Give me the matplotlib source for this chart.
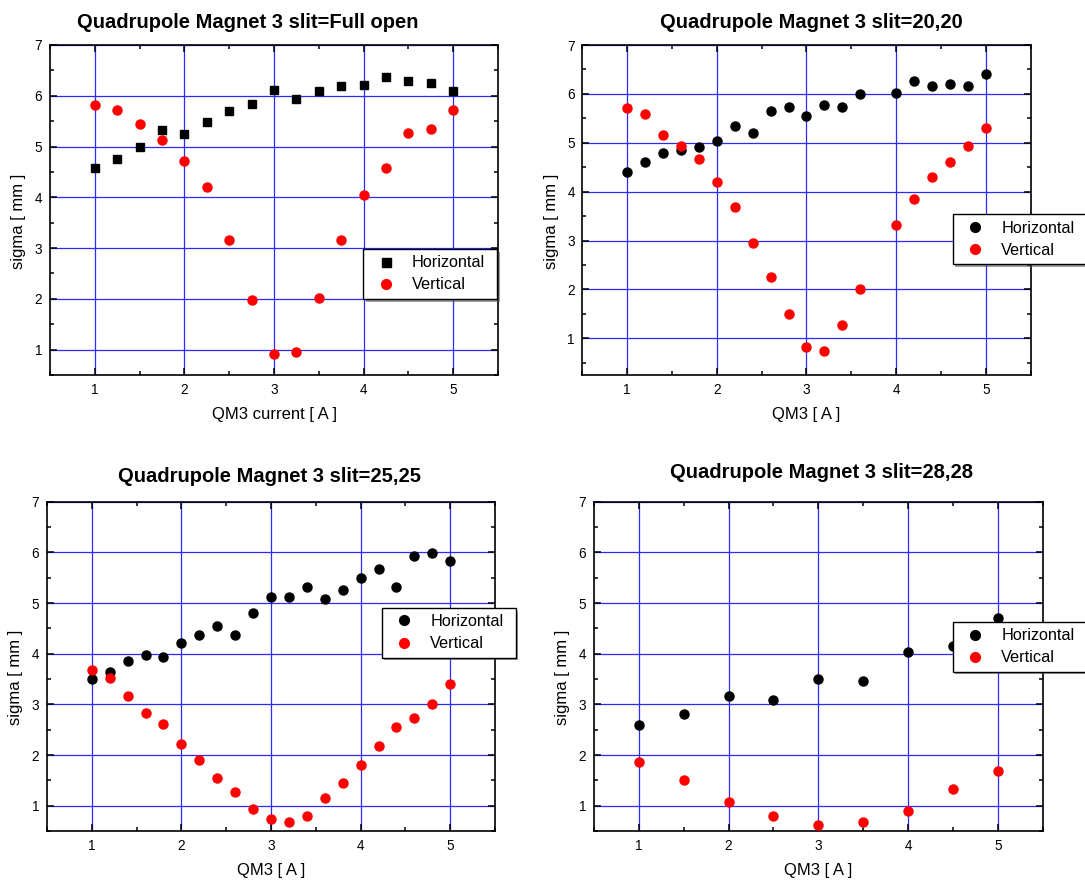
import matplotlib
matplotlib.use("Agg")
import matplotlib.pyplot as plt
from matplotlib.ticker import MultipleLocator

plt.rcParams['font.family'] = ['Liberation Sans', 'DejaVu Sans']

# ---------------- data ----------------
titles = ["Quadrupole Magnet 3 slit=Full open",
          "Quadrupole Magnet 3 slit=20,20",
          "Quadrupole Magnet 3 slit=25,25",
          "Quadrupole Magnet 3 slit=28,28"]
xlabels = ["QM3 current [ A ]", "QM3 [ A ]", "QM3 [ A ]", "QM3 [ A ]"]
ylabel = "sigma [ mm ]"
series_names = ["Horizontal", "Vertical"]

x_full = [1.0, 1.25, 1.5, 1.75, 2.0, 2.25, 2.5, 2.75, 3.0, 3.25, 3.5, 3.75,
          4.0, 4.25, 4.5, 4.75, 5.0]
h_full = [4.57, 4.75, 4.99, 5.33, 5.24, 5.49, 5.70, 5.83, 6.11, 5.93, 6.10,
          6.19, 6.21, 6.36, 6.30, 6.25, 6.09]
v_full = [5.81, 5.72, 5.45, 5.13, 4.71, 4.21, 3.15, 1.98, 0.92, 0.95, 2.02,
          3.16, 4.04, 4.57, 5.26, 5.35, 5.72]

x_2020 = [1.0, 1.2, 1.4, 1.6, 1.8, 2.0, 2.2, 2.4, 2.6, 2.8, 3.0, 3.2, 3.4,
          3.6, 4.0, 4.2, 4.4, 4.6, 4.8, 5.0]
h_2020 = [4.41, 4.60, 4.80, 4.85, 4.91, 5.03, 5.34, 5.20, 5.66, 5.73, 5.55,
          5.77, 5.74, 5.99, 6.01, 6.26, 6.16, 6.20, 6.17, 6.40]
v_2020 = [5.72, 5.58, 5.15, 4.94, 4.66, 4.20, 3.69, 2.94, 2.26, 1.50, 0.82,
          0.75, 1.27, 2.01, 3.31, 3.85, 4.29, 4.60, 4.93, 5.31]

x_2525 = [1.0, 1.2, 1.4, 1.6, 1.8, 2.0, 2.2, 2.4, 2.6, 2.8, 3.0, 3.2, 3.4,
          3.6, 3.8, 4.0, 4.2, 4.4, 4.6, 4.8, 5.0]
h_2525 = [3.50, 3.64, 3.85, 3.97, 3.93, 4.21, 4.36, 4.54, 4.36, 4.81, 5.12,
          5.12, 5.31, 5.08, 5.26, 5.49, 5.68, 5.32, 5.93, 5.98, 5.82]
v_2525 = [3.68, 3.52, 3.16, 2.83, 2.62, 2.22, 1.90, 1.55, 1.26, 0.93, 0.74,
          0.68, 0.80, 1.15, 1.44, 1.80, 2.17, 2.55, 2.73, 3.00, 3.40]

x_2828 = [1.0, 1.5, 2.0, 2.5, 3.0, 3.5, 4.0, 4.5, 5.0]
h_2828 = [2.60, 2.81, 3.17, 3.08, 3.51, 3.46, 4.03, 4.15, 4.71]
v_2828 = [1.86, 1.50, 1.07, 0.80, 0.62, 0.67, 0.90, 1.33, 1.69]

# ---------------- layout / style ----------------
W, H = 1085, 880
fig = plt.figure(figsize=(W / 100, H / 100), dpi=100)

# axes boxes in pixels: left, top, right, bottom
boxes = [(50, 45, 498, 375), (582.4, 45, 1030.6, 375),
         (47, 501.7, 495, 831), (593.8, 501.7, 1042.8, 831)]
ylims = [(0.5, 7), (0.25, 7), (0.5, 7), (0.5, 7)]
h_markers = ['s', 'o', 'o', 'o']
h_ms = [6.0, 6.5, 6.5, 6.5]
title_pos = [(0.442, 22), (0.511, 22), (0.496, 25), (0.508, 29)]
legend_pos = [(0.699, 0.382), (0.826, 0.487), (0.747, 0.678), (0.799, 0.635)]

datasets = [(x_full, h_full, v_full), (x_2020, h_2020, v_2020),
            (x_2525, h_2525, v_2525), (x_2828, h_2828, v_2828)]

grid_color = '#2a2aff'

for i, (l, t, r, b) in enumerate(boxes):
    ax = fig.add_axes([l / W, 1 - b / H, (r - l) / W, (b - t) / H])
    hpix = b - t
    xs, hs, vs = datasets[i]
    ax.plot(xs, hs, linestyle='none', marker=h_markers[i], ms=h_ms[i],
            color='black', mec='black', label=series_names[0], zorder=3)
    ax.plot(xs, vs, linestyle='none', marker='o', ms=6.5,
            color='#ff0000', mec='#ff0000', label=series_names[1], zorder=3)
    ax.set_xlim(0.5, 5.5)
    ax.set_ylim(*ylims[i])
    ax.xaxis.set_major_locator(MultipleLocator(1))
    ax.xaxis.set_minor_locator(MultipleLocator(0.5))
    ax.yaxis.set_major_locator(MultipleLocator(1))
    ax.yaxis.set_minor_locator(MultipleLocator(0.5))
    ax.tick_params(which='both', direction='in', top=True, right=True,
                   width=1.1, colors='black', labelsize=9.8, pad=5.5)
    ax.tick_params(which='major', length=5)
    ax.tick_params(which='minor', length=2.8)
    for sp in ax.spines.values():
        sp.set_linewidth(1.2)
    ax.set_axisbelow(True)
    ax.grid(True, which='major', color=grid_color, linewidth=0.9)

    ax.set_xlabel(xlabels[i], fontsize=12, va='center')
    ax.xaxis.set_label_coords(0.5, -39.5 / hpix)
    ax.set_ylabel(ylabel, fontsize=12, va='center')
    ax.yaxis.set_label_coords(-31 / (r - l), 0.467)

    tx, ty = title_pos[i]
    ax.text(tx, 1 + ty / hpix, titles[i], transform=ax.transAxes,
            ha='center', va='center', fontsize=14.5, fontweight='bold')

    lx, ly = legend_pos[i]
    leg = ax.legend(loc='upper left', bbox_to_anchor=(lx, ly, 0.299, 0.0),
                    mode='expand', fontsize=11.7, frameon=True, fancybox=False,
                    borderpad=0.39, handlelength=2.0, handletextpad=0.6,
                    labelspacing=0.44, borderaxespad=0.0, markerscale=1.08,
                    numpoints=1,
                    shadow={'facecolor': '0.3', 'edgecolor': 'none', 'alpha': 0.55})
    fr = leg.get_frame()
    fr.set_edgecolor('black')
    fr.set_linewidth(1.0)
    fr.set_alpha(1.0)
    leg.set_zorder(10)

fig.savefig('out.png', dpi=100)
